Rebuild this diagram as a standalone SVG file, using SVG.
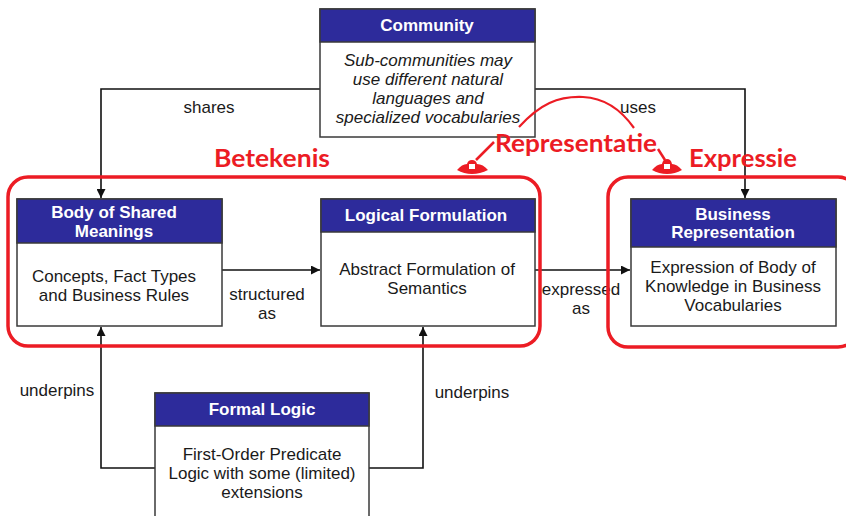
<svg xmlns="http://www.w3.org/2000/svg" width="846" height="516" viewBox="0 0 846 516">
<defs>
<style>
.box{fill:#fff;stroke:#3a3a3a;stroke-width:1.5}
.hdr{fill:#2d2b9b;stroke:#3a3a3a;stroke-width:1.5}
.ht{font-family:"Liberation Sans",Arial,sans-serif;font-weight:bold;font-size:17px;fill:#fff;text-anchor:middle}
.bt{font-family:"Liberation Sans",Arial,sans-serif;font-size:17px;fill:#1a1a1a;text-anchor:middle}
.it{font-style:italic}
.lbl{font-family:"Liberation Sans",Arial,sans-serif;font-size:17px;fill:#1a1a1a;text-anchor:middle}
.conn{fill:none;stroke:#111;stroke-width:1.6}
.red{fill:none;stroke:#ec1c24;stroke-width:3.5}
.redt{font-family:Lato,"Open Sans",sans-serif;font-weight:bold;font-size:24px;fill:#ec1c24}
</style>
<marker id="arr" viewBox="0 0 10 10" refX="10" refY="5" markerWidth="9" markerHeight="9" markerUnits="userSpaceOnUse" orient="auto">
<path d="M0,0 L10,5 L0,10 Z" fill="#111"/>
</marker>
</defs>
<rect width="846" height="516" fill="#fff"/>

<g id="connectors">
<path class="conn" d="M320,89 H101 V198" style="marker-end:url(#arr)"/>
<path class="conn" d="M535,89 H745 V198" style="marker-end:url(#arr)"/>
<path class="conn" d="M222,270 H320" style="marker-end:url(#arr)"/>
<path class="conn" d="M535,270 H630" style="marker-end:url(#arr)"/>
<path class="conn" d="M155,468 H101 V327" style="marker-end:url(#arr)"/>
<path class="conn" d="M369,468 H423 V327" style="marker-end:url(#arr)"/>
<text class="lbl" x="209" y="113">shares</text>
<text class="lbl" x="638" y="113">uses</text>
<text class="lbl" x="267" y="300">structured</text>
<text class="lbl" x="267" y="319">as</text>
<text class="lbl" x="581" y="295">expressed</text>
<text class="lbl" x="581" y="314">as</text>
<text class="lbl" x="57" y="396">underpins</text>
<text class="lbl" x="472" y="398">underpins</text>
</g>

<g id="community">
<rect class="box" x="320" y="9" width="215" height="128"/>
<rect class="hdr" x="320" y="9" width="215" height="33"/>
<text class="ht" x="427" y="31">Community</text>
<text class="bt it" x="428" y="66">Sub-communities may</text>
<text class="bt it" x="428" y="85">use different natural</text>
<text class="bt it" x="428" y="104">languages and</text>
<text class="bt it" x="428" y="123">specialized vocabularies</text>
</g>

<g id="body-of-shared-meanings">
<rect class="box" x="17" y="199" width="205" height="127"/>
<rect class="hdr" x="17" y="199" width="205" height="44"/>
<text class="ht" x="114" y="218">Body of Shared</text>
<text class="ht" x="114" y="237">Meanings</text>
<text class="bt" x="114" y="282">Concepts, Fact Types</text>
<text class="bt" x="114" y="301">and Business Rules</text>
</g>

<g id="logical-formulation">
<rect class="box" x="321" y="199" width="214" height="127"/>
<rect class="hdr" x="321" y="199" width="214" height="33"/>
<text class="ht" x="426" y="221">Logical  Formulation</text>
<text class="bt" x="427" y="275">Abstract Formulation of</text>
<text class="bt" x="427" y="294">Semantics</text>
</g>

<g id="business-representation">
<rect class="box" x="631" y="199" width="205" height="127"/>
<rect class="hdr" x="631" y="199" width="205" height="48"/>
<text class="ht" x="733" y="220">Business</text>
<text class="ht" x="733" y="238">Representation</text>
<text class="bt" x="733" y="273">Expression of Body of</text>
<text class="bt" x="733" y="292">Knowledge in Business</text>
<text class="bt" x="733" y="311">Vocabularies</text>
</g>

<g id="formal-logic">
<rect class="box" x="155" y="393" width="214" height="140"/>
<rect class="hdr" x="155" y="393" width="214" height="33"/>
<text class="ht" x="262" y="415">Formal Logic</text>
<text class="bt" x="262" y="460">First-Order Predicate</text>
<text class="bt" x="262" y="479">Logic with some (limited)</text>
<text class="bt" x="262" y="498">extensions</text>
</g>

<g id="annotations">
<rect class="red" x="8" y="177" width="532" height="169" rx="20"/>
<rect class="red" x="608" y="177" width="250" height="170" rx="20"/>
<text class="redt" x="214" y="167" textLength="116" lengthAdjust="spacingAndGlyphs">Betekenis</text>
<text class="redt" x="495" y="152" textLength="162" lengthAdjust="spacingAndGlyphs">Representatie</text>
<text class="redt" x="689" y="167" textLength="108" lengthAdjust="spacingAndGlyphs">Expressie</text>
<path d="M519,127 C540,104 558,96 583,97 C606,98 622,111 634,128" fill="none" stroke="#ec1c24" stroke-width="2.2"/>
<path d="M494,142 L476,160" fill="none" stroke="#ec1c24" stroke-width="2.5"/>
<path d="M658,149 L665,160" fill="none" stroke="#ec1c24" stroke-width="2.5"/>
<path d="M457,170 Q462,164 467,164 Q468,160 472,160 Q476,160 477,164 Q483,164 488,170 Q480,174 472,174 Q464,174 457,170 Z" fill="#ec1c24"/>
<rect x="469" y="164" width="6" height="5" fill="#fff"/>
<path d="M652,170 Q657,164 662,164 Q663,159 667,159 Q671,159 672,164 Q677,164 682,170 Q675,174 667,174 Q659,174 652,170 Z" fill="#ec1c24"/>
<rect x="664" y="164" width="6" height="5" fill="#fff"/>
</g>
</svg>
